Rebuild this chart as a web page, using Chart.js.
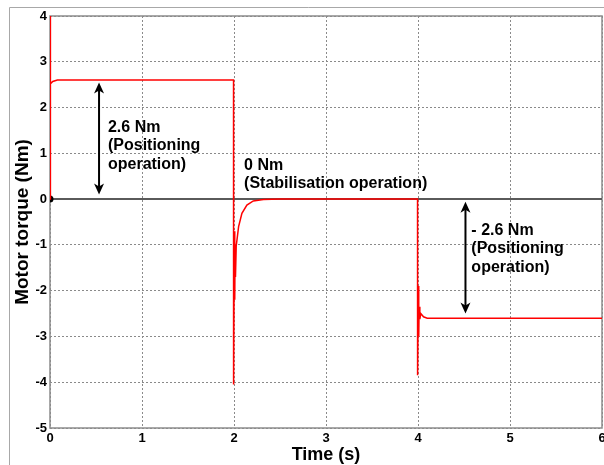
<!DOCTYPE html>
<html>
<head>
<meta charset="utf-8">
<script src="https://cdn.jsdelivr.net/npm/chart.js@4.4.1/dist/chart.umd.min.js"></script>
<style>
  html, body { margin: 0; padding: 0; background: #fff; overflow: hidden; }
  #wrap { width: 604px; height: 465px; position: relative; overflow: hidden; }
</style>
</head>
<body>
<!-- canvas is a bit wider than the window: the right tick label "6" is cut off like in the original -->
<div id="wrap"><canvas id="torqueChart" width="608" height="465"></canvas></div>
<script>
// motor torque response
const timeS = [0, 0.0005, 0.002, 0.005, 0.01, 0.03, 0.08,
  1.995, 1.9955, 2.004, 2.008, 2.012, 2.016, 2.024, 2.05, 2.086, 2.14, 2.21, 2.32, 2.5,
  3.995, 3.9955, 4.004, 4.008, 4.012, 4.02, 4.03, 4.06, 4.1, 6];
const torqueNm = [0, 4.0, 2.9, 2.45, 2.52, 2.57, 2.6,
  2.6, -4.05, -0.7, -2.2, -1.0, -1.7, -1.03, -0.6, -0.31, -0.13, -0.04, -0.01, 0,
  0, -3.85, -1.9, -3.0, -2.35, -2.62, -2.5, -2.57, -2.6, -2.6];

// zero reference line
const refTime = [0, 6];
const refTorque = [0, 0];

const xTicks = [0, 1, 2, 3, 4, 5, 6];
const yTicks = [-5, -4, -3, -2, -1, 0, 1, 2, 3, 4];

// annotation arrows: [time, from, to]
const arrows = [[0.533, 2.55, 0.1], [4.516, -0.06, -2.5]];
// annotation text blocks: [time, torque of first line, lines]
const notes = [
  [0.63, 1.57, ["2.6 Nm", "(Positioning", "operation)"]],
  [2.11, 0.74, ["0 Nm", "(Stabilisation operation)"]],
  [4.58, -0.68, ["- 2.6 Nm", "(Positioning", "operation)"]]
];

const font = "Liberation Sans, Arial, sans-serif";

const framePlugin = {
  id: "frame",
  beforeDraw(chart) {
    const ctx = chart.ctx;
    ctx.save();
    ctx.fillStyle = "#fff";
    ctx.fillRect(0, 0, chart.width, chart.height);
    ctx.strokeStyle = "#a8a8a8";
    ctx.lineWidth = 1;
    ctx.beginPath();
    ctx.moveTo(9.5, chart.height);
    ctx.lineTo(9.5, 7.5);
    ctx.lineTo(chart.width, 7.5);
    ctx.stroke();
    ctx.restore();
  },
  beforeDatasetsDraw(chart) {
    const a = chart.chartArea;
    const ctx = chart.ctx;
    ctx.save();
    ctx.strokeStyle = "#8c8c8c";
    ctx.lineWidth = 1.5;
    ctx.strokeRect(a.left, a.top, a.right - a.left, a.bottom - a.top);
    ctx.restore();
  },
  afterDatasetsDraw(chart) {
    const ctx = chart.ctx;
    const xs = chart.scales.x, ys = chart.scales.y;
    ctx.save();
    ctx.strokeStyle = "#000";
    ctx.fillStyle = "#000";
    ctx.lineWidth = 2;
    arrows.forEach(([t, v1, v2]) => {
      const x = xs.getPixelForValue(t);
      const y1 = ys.getPixelForValue(v1);
      const y2 = ys.getPixelForValue(v2);
      ctx.beginPath();
      ctx.moveTo(x, y1 + 6);
      ctx.lineTo(x, y2 - 6);
      ctx.stroke();
      [[y1, 1], [y2, -1]].forEach(([y, d]) => {
        ctx.beginPath();
        ctx.moveTo(x, y);
        ctx.lineTo(x - 5, y + d * 11);
        ctx.lineTo(x, y + d * 8);
        ctx.lineTo(x + 5, y + d * 11);
        ctx.closePath();
        ctx.fill();
      });
    });
    ctx.font = "bold 16px " + font;
    ctx.textAlign = "left";
    ctx.textBaseline = "middle";
    notes.forEach(([t, v, lines]) => {
      const x = xs.getPixelForValue(t);
      const y = ys.getPixelForValue(v);
      lines.forEach((s, i) => ctx.fillText(s, x, y + i * 18.7));
    });
    ctx.restore();
  }
};

const noEdgePad = (s) => {
  s.paddingLeft = 0; s.paddingRight = 0; s.paddingTop = 0; s.paddingBottom = 0;
};

new Chart(document.getElementById("torqueChart"), {
  type: "line",
  data: {
    datasets: [
      {
        label: "Motor torque",
        data: timeS.map((t, i) => ({ x: t, y: torqueNm[i] })),
        borderColor: "#ff0000",
        borderWidth: 1.5,
        pointRadius: 0,
        tension: 0,
        order: 0
      },
      {
        label: "Zero",
        data: refTime.map((t, i) => ({ x: t, y: refTorque[i] })),
        borderColor: "#5a5a5a",
        borderWidth: 2,
        pointRadius: [2.5, 0],
        pointBackgroundColor: "#000",
        pointBorderColor: "#000",
        tension: 0,
        order: 1
      }
    ]
  },
  options: {
    responsive: false,
    animation: false,
    events: [],
    layout: { padding: { left: 0, top: 16, right: 2, bottom: 0 } },
    plugins: { legend: { display: false }, tooltip: { enabled: false } },
    scales: {
      x: {
        type: "linear",
        min: 0,
        max: 6,
        afterBuildTicks: (s) => { s.ticks = xTicks.map(v => ({ value: v })); },
        afterFit: (s) => { s.height = 37; noEdgePad(s); },
        grid: { color: "#8a8a8a", lineWidth: 1, drawTicks: false },
        border: { display: false, dash: [2, 2] },
        ticks: { color: "#000", padding: 3, font: { family: font, size: 13, weight: "bold" }, maxRotation: 0 },
        title: { display: true, text: "Time (s)", color: "#000", font: { family: font, size: 18, weight: "bold" }, padding: { top: 0, bottom: -1 } }
      },
      y: {
        min: -5,
        max: 4,
        afterBuildTicks: (s) => { s.ticks = yTicks.map(v => ({ value: v })); },
        afterFit: (s) => { s.width = 50; noEdgePad(s); },
        grid: { color: "#8a8a8a", lineWidth: 1, drawTicks: false },
        border: { display: false, dash: [2, 2] },
        ticks: { color: "#000", padding: 3, font: { family: font, size: 13, weight: "bold" } },
        title: { display: true, text: "Motor torque (Nm)", color: "#000", font: { family: font, size: 19, weight: "bold" }, padding: { top: 11, bottom: 0 } }
      }
    }
  },
  plugins: [framePlugin]
});
</script>
</body>
</html>
